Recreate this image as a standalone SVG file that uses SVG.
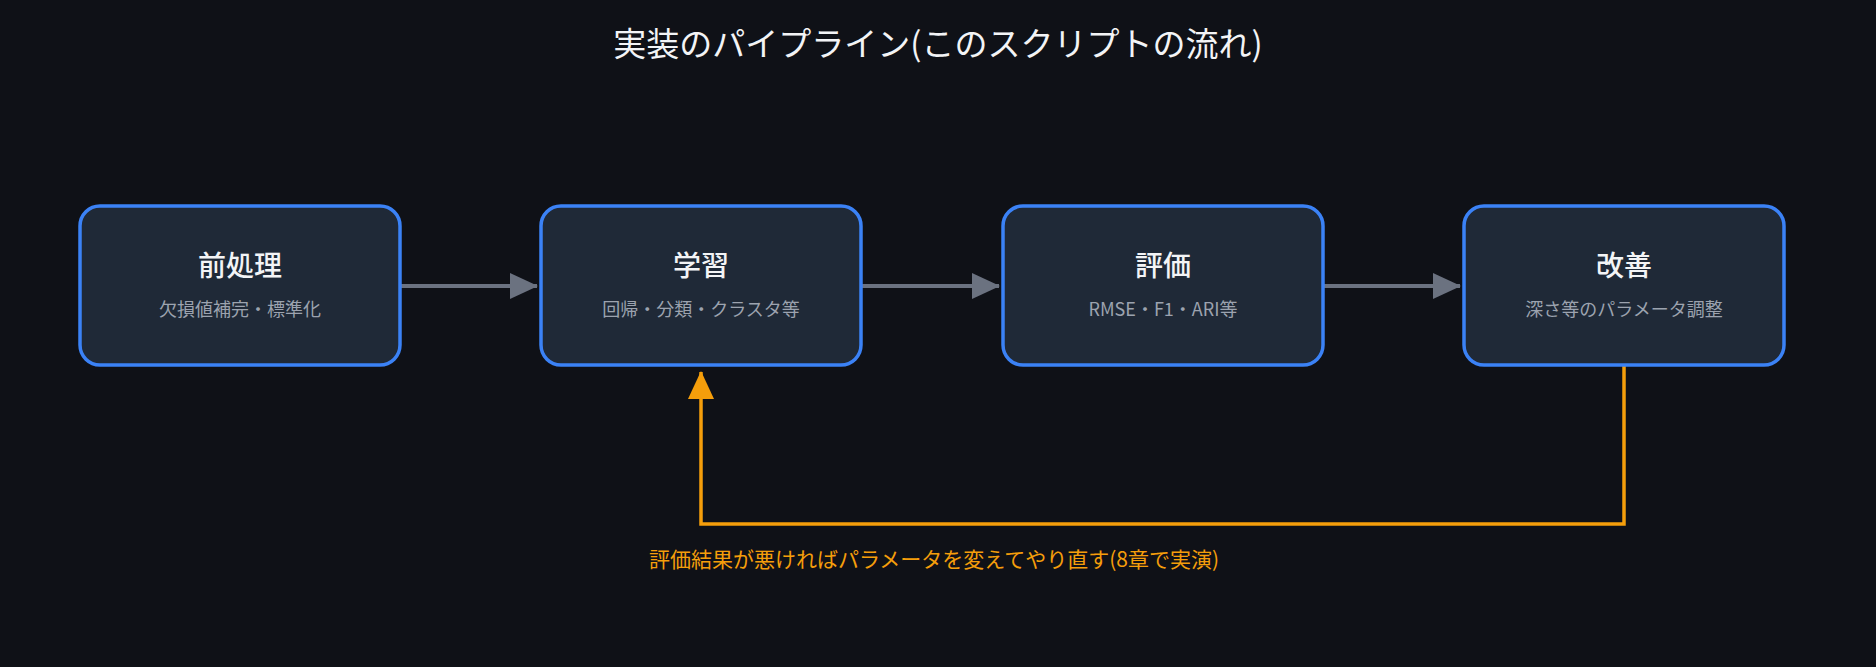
<svg xmlns="http://www.w3.org/2000/svg" width="1876" height="667" viewBox="0 0 1876 667">
<style>
.box{fill:#1f2937;stroke:#3b82f6;stroke-width:3.5}
.t{font-family:"Noto Sans CJK JP","Noto Sans",sans-serif;text-anchor:middle}
.h{font-size:28px;fill:#f3f4f6;font-weight:500}
.s{font-size:18px;fill:#9ca3af}
</style>
<defs>
<marker id="ag" markerWidth="28" markerHeight="26" refX="27" refY="13" orient="auto" markerUnits="userSpaceOnUse"><path d="M0,0L28,13L0,26Z" fill="#6b7280"/></marker>
<marker id="ao" markerWidth="28" markerHeight="26" refX="27" refY="13" orient="auto" markerUnits="userSpaceOnUse"><path d="M0,0L28,13L0,26Z" fill="#f59e0b"/></marker>
</defs>
<rect width="1876" height="667" fill="#0f1117"/>
<text class="t" x="938" y="56" font-size="33" fill="#f3f4f6">実装のパイプライン(このスクリプトの流れ)</text>
<g id="connectors" fill="none" stroke-width="4">
<line x1="401" y1="286" x2="537" y2="286" stroke="#6b7280" marker-end="url(#ag)"/>
<line x1="862" y1="286" x2="999" y2="286" stroke="#6b7280" marker-end="url(#ag)"/>
<line x1="1324" y1="286" x2="1460" y2="286" stroke="#6b7280" marker-end="url(#ag)"/>
<path d="M1624,366V524H701V372" stroke="#f59e0b" stroke-width="3.5" marker-end="url(#ao)"/>
<text class="t" x="934" y="567" font-size="21" fill="#f59e0b" stroke="none">評価結果が悪ければパラメータを変えてやり直す(8章で実演)</text>
</g>
<g id="n1"><rect class="box" x="80" y="206" width="320" height="159" rx="20"/><text class="t h" x="240" y="276">前処理</text><text class="t s" x="240" y="316">欠損値補完・標準化</text></g>
<g id="n2"><rect class="box" x="541" y="206" width="320" height="159" rx="20"/><text class="t h" x="701" y="276">学習</text><text class="t s" x="701" y="316">回帰・分類・クラスタ等</text></g>
<g id="n3"><rect class="box" x="1003" y="206" width="320" height="159" rx="20"/><text class="t h" x="1163" y="276">評価</text><text class="t s" x="1163" y="316">RMSE・F1・ARI等</text></g>
<g id="n4"><rect class="box" x="1464" y="206" width="320" height="159" rx="20"/><text class="t h" x="1624" y="276">改善</text><text class="t s" x="1624" y="316">深さ等のパラメータ調整</text></g>
</svg>
